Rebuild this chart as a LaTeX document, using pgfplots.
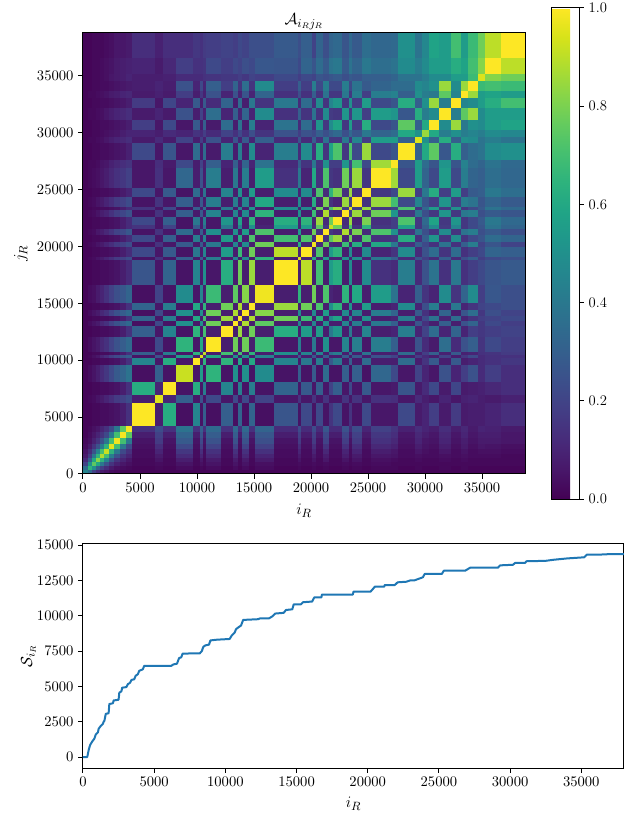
\documentclass[border=0pt]{standalone}
\usepackage{pgfplots}
\usepackage{pgfplotstable}
\pgfplotsset{compat=1.18}
\pgfplotstableset{header=false}
% block edges along both axes
\pgfplotstableread{
0
412
763
1114
1465
1816
2281
2746
3272
3798
4272
6316
6991
8158
9623
10289
10526
10789
12105
13132
13570
13947
14535
15088
16728
18886
19123
20061
20465
21053
21579
21956
22693
23307
23596
24474
25263
27018
27658
29149
29711
30351
31202
32281
33158
33746
34623
35263
36667
38770
}\edges
% block values in percent
\pgfplotstableread{
45 35 20 12 7 5 3 2 1 1 1 1 1 1 1 1 1 1 1 1 1 1 1 1 1 1 1 1 1 1 1 1 1 1 1 1 1 1 1 1 1 1 1 1 1 1 1 1 1
35 65 50 30 18 12 7 4 3 2 1 2 1 3 1 2 1 3 1 3 1 3 1 3 1 2 1 2 1 2 1 1 2 1 2 1 2 2 1 2 1 1 2 1 2 1 1 1 1
20 50 75 60 40 25 15 9 6 4 2 3 2 5 2 4 2 5 2 5 2 5 2 4 2 3 2 3 2 3 2 2 3 2 3 2 3 2 2 2 2 2 2 2 2 2 2 2 2
12 30 60 82 65 45 25 15 10 6 2 5 2 8 2 6 2 7 2 7 2 7 2 7 2 5 2 5 2 6 2 2 5 2 5 2 4 3 2 3 2 2 3 2 3 2 2 2 2
7 18 40 65 88 70 42 25 15 10 3 7 3 12 3 10 3 11 3 11 3 11 3 10 3 7 3 7 3 8 3 3 8 3 7 3 6 5 3 4 3 3 4 3 4 3 3 3 2
5 12 25 45 70 92 65 40 22 14 3 10 3 16 3 13 3 14 3 14 3 14 3 14 3 10 3 10 3 11 3 3 10 3 10 3 8 6 3 6 4 3 6 3 5 3 4 4 3
3 7 15 25 42 65 96 70 40 22 4 13 4 22 4 18 4 20 4 20 4 20 4 19 4 13 4 13 4 15 4 4 14 4 13 4 11 9 4 8 5 4 8 4 7 4 6 5 4
2 4 9 15 25 40 70 98 70 40 5 17 5 28 5 22 5 25 5 25 5 25 5 24 5 17 5 17 5 20 5 5 18 5 17 5 14 11 5 10 6 5 10 5 8 5 7 7 6
1 3 6 10 15 22 40 70 99 75 8 19 8 32 8 26 8 29 8 29 8 29 8 27 8 19 8 19 8 22 8 8 21 8 19 7 16 13 6 11 8 6 11 6 10 6 8 8 6
1 2 4 6 10 14 22 40 75 99 14 23 14 38 14 30 14 34 14 34 14 34 14 32 12 23 12 23 12 27 12 12 25 12 23 10 19 15 9 13 10 8 13 8 11 7 10 9 7
1 1 2 2 3 3 4 5 8 14 100 8 62 4 45 5 30 4 30 4 32 4 32 4 26 5 22 5 22 5 15 22 5 15 5 22 6 6 22 7 10 18 7 17 7 8 8 10 13
1 2 3 5 7 10 13 17 19 23 8 95 10 30 6 25 6 22 6 22 6 22 6 20 6 15 6 15 6 15 6 6 15 6 15 6 14 13 6 12 8 6 10 6 9 10 8 7 9
1 1 2 2 3 3 4 5 8 14 62 10 100 5 62 6 42 5 45 5 42 5 42 5 32 6 28 6 30 6 20 30 6 22 6 28 6 7 26 7 12 22 7 21 7 8 9 11 13
1 3 5 8 12 16 22 28 32 38 4 30 5 92 6 55 6 65 5 50 5 50 5 48 5 30 5 28 5 35 5 5 30 5 30 5 33 22 6 20 10 6 25 10 18 25 12 18 13
1 1 2 2 3 3 4 5 8 14 45 6 62 6 100 8 65 6 65 6 60 6 60 6 45 7 40 7 42 7 28 40 7 30 7 35 8 8 35 8 15 28 8 28 8 10 12 14 16
1 2 4 6 10 13 18 22 26 30 5 25 6 55 8 95 12 60 8 50 8 50 8 45 8 30 8 28 8 30 8 8 28 8 28 8 25 20 8 18 12 8 20 8 16 22 12 14 14
1 1 2 2 3 3 4 5 8 14 30 6 42 6 65 12 90 8 70 8 70 8 65 8 50 8 45 8 45 8 35 42 8 35 8 38 8 9 35 9 18 30 9 28 9 10 14 15 17
1 3 5 7 11 14 20 25 29 34 4 22 5 65 6 60 8 100 8 78 8 78 8 68 6 42 6 40 6 50 6 6 45 6 42 6 42 30 7 25 12 7 36 12 25 30 15 22 18
1 1 2 2 3 3 4 5 8 14 30 6 45 5 65 8 70 8 100 8 85 8 78 8 62 8 55 8 55 8 40 52 8 40 8 45 8 10 42 10 20 35 10 32 10 18 16 18 20
1 3 5 7 11 14 20 25 29 34 4 22 5 50 6 50 8 78 8 100 10 88 8 75 8 45 8 45 8 50 8 8 45 8 42 8 40 30 8 26 14 8 30 8 25 32 16 22 18
1 1 2 2 3 3 4 5 8 14 32 6 42 5 60 8 70 8 85 10 100 10 88 8 78 8 68 8 62 8 45 58 8 45 8 50 8 10 42 10 22 38 10 35 10 15 18 20 22
1 3 5 7 11 14 20 25 29 34 4 22 5 50 6 50 8 78 8 88 10 100 10 82 8 48 8 48 8 55 8 8 48 8 45 8 42 32 8 28 14 8 32 8 26 36 16 24 20
1 1 2 2 3 3 4 5 8 14 32 6 42 5 60 8 65 8 78 8 88 10 100 10 85 8 78 8 72 8 50 65 8 52 8 55 8 10 48 10 24 42 10 40 10 15 20 22 24
1 3 4 7 10 14 19 24 27 32 4 20 5 48 6 45 8 68 8 75 8 82 10 98 8 65 8 78 8 72 10 8 65 8 60 8 55 38 10 30 15 10 48 15 32 48 18 27 24
1 1 2 2 3 3 4 5 8 12 26 6 32 5 45 8 50 6 62 8 78 8 85 8 100 8 90 8 70 8 55 62 8 48 8 48 14 12 42 12 25 38 14 40 14 18 22 26 28
1 2 3 5 7 10 13 17 19 23 5 15 6 30 7 30 8 42 8 45 8 48 8 65 8 95 10 62 10 55 10 10 50 10 48 10 40 30 12 26 18 12 30 12 24 30 18 22 24
1 1 2 2 3 3 4 5 8 12 22 6 28 5 40 8 45 6 55 8 68 8 78 8 90 10 100 10 72 8 55 65 8 48 8 48 10 15 48 12 25 35 15 35 14 18 22 32 30
1 2 3 5 7 10 13 17 19 23 5 15 6 28 7 28 8 40 8 45 8 48 8 78 8 62 10 98 12 78 12 10 68 10 62 10 60 40 14 30 22 14 38 14 30 42 20 26 20
1 1 2 2 3 3 4 5 8 12 22 6 30 5 42 8 45 6 55 8 62 8 72 8 70 10 72 12 100 14 75 85 10 78 10 72 14 16 62 14 30 52 15 48 15 22 26 35 32
1 2 3 6 8 11 15 20 22 27 5 15 6 35 7 30 8 50 8 50 8 55 8 72 8 55 8 78 14 100 16 12 88 12 80 12 72 50 15 38 24 16 48 15 38 42 24 28 24
1 1 2 2 3 3 4 5 8 12 15 6 20 5 28 8 35 6 40 8 45 8 50 10 55 10 55 12 75 16 92 78 14 72 14 65 16 18 58 16 30 48 17 45 16 22 26 38 32
1 1 2 2 3 3 4 5 8 12 22 6 30 5 40 8 42 6 52 8 58 8 65 8 62 10 65 10 85 12 78 100 12 85 10 80 14 18 72 16 34 58 16 52 16 22 28 40 34
1 2 3 5 8 10 14 18 21 25 5 15 6 30 7 28 8 45 8 45 8 48 8 65 8 50 8 68 10 88 14 12 100 18 85 14 78 52 16 40 24 16 52 16 40 42 24 28 26
1 1 2 2 3 3 4 5 8 12 15 6 22 5 30 8 35 6 40 8 45 8 52 8 48 10 48 10 78 12 72 85 18 95 18 85 16 20 72 16 34 55 17 50 16 22 28 38 34
1 2 3 5 7 10 13 17 19 23 5 15 6 30 7 28 8 42 8 42 8 45 8 60 8 48 8 62 10 80 14 10 85 18 100 14 85 70 22 45 26 18 52 18 42 38 26 32 28
1 1 2 2 3 3 4 5 7 10 22 6 28 5 35 8 38 6 45 8 50 8 55 8 48 10 48 10 72 12 65 80 14 85 14 100 16 22 85 18 40 62 18 55 18 28 30 40 36
1 2 3 4 6 8 11 14 16 19 6 14 6 33 8 25 8 42 8 40 8 42 8 55 14 40 10 60 14 72 16 14 78 16 85 16 100 86 22 55 32 22 55 22 42 32 30 36 33
1 2 2 3 5 6 9 11 13 15 6 13 7 22 8 20 9 30 10 30 10 32 10 38 12 30 15 40 16 50 18 18 52 20 70 22 86 100 26 55 35 26 52 26 44 35 32 38 34
1 1 2 2 3 3 4 5 6 9 22 6 26 6 35 8 35 7 42 8 42 8 48 10 42 12 48 14 62 15 58 72 16 72 22 85 22 26 100 30 60 75 27 62 30 35 38 48 50
1 2 2 3 4 6 8 10 11 13 7 12 7 20 8 18 9 25 10 26 10 28 10 30 12 26 12 30 14 38 16 16 40 16 45 18 55 55 30 95 50 30 62 30 50 48 38 42 38
1 1 2 2 3 4 5 6 8 10 10 8 12 10 15 12 18 12 20 14 22 14 24 15 25 18 25 22 30 24 30 34 24 34 26 40 32 35 60 50 85 60 42 50 42 45 42 48 46
1 1 2 2 3 3 4 5 6 8 18 6 22 6 28 8 30 7 35 8 38 8 42 10 38 12 35 14 52 16 48 58 16 55 18 62 22 26 75 30 60 100 48 85 40 50 48 55 58
1 2 2 3 4 6 8 10 11 13 7 10 7 25 8 20 9 36 10 30 10 32 10 48 14 30 15 38 15 48 17 16 52 17 52 18 55 52 27 62 42 48 100 42 75 85 48 55 55
1 1 2 2 3 3 4 5 6 8 17 6 21 10 28 8 28 12 32 8 35 8 40 15 40 12 35 14 48 15 45 52 16 50 18 55 22 26 62 30 50 85 42 100 45 48 55 62 70
1 2 2 3 4 5 7 8 10 11 7 9 7 18 8 16 9 25 10 25 10 26 10 32 14 24 14 30 15 38 16 16 40 16 42 18 42 44 30 50 42 40 75 45 100 85 55 58 55
1 1 2 2 3 3 4 5 6 7 8 10 8 25 10 22 10 30 18 32 15 36 15 48 18 30 18 42 22 42 22 22 42 22 38 28 32 35 35 48 45 50 85 48 85 100 68 70 68
1 1 2 2 3 4 6 7 8 10 8 8 9 12 12 12 14 15 16 16 18 16 20 18 22 18 22 20 26 24 26 28 24 28 26 30 30 32 38 38 42 48 48 55 55 68 95 82 78
1 1 2 2 3 4 5 7 8 9 10 7 11 18 14 14 15 22 18 22 20 24 22 27 26 22 32 26 35 28 38 40 28 38 32 40 36 38 48 42 48 55 55 62 58 70 82 100 90
1 1 2 2 2 3 4 6 6 7 13 9 13 13 16 14 17 18 20 18 22 20 24 24 28 24 30 20 32 24 32 34 26 34 28 36 33 34 50 38 46 58 55 70 55 68 78 90 100
}\cells
\pgfplotstableset{header=true}
\gdef\meshcoords{}
\pgfplotsforeachungrouped \r in {0,...,49}{%
  \pgfplotstablegetelem{\r}{[index]0}\of\edges\let\yv\pgfplotsretval
  \pgfplotsforeachungrouped \c in {0,...,49}{%
    \pgfplotstablegetelem{\c}{[index]0}\of\edges\let\xv\pgfplotsretval
    \def\vv{0}%
    \ifnum\r<49 \ifnum\c<49
      \pgfplotstablegetelem{\r}{[index]\c}\of\cells\let\vv\pgfplotsretval
    \fi\fi
    \xdef\meshcoords{\meshcoords (\xv,\yv) [\vv]}%
  }%
}
\definecolor{tabblue}{HTML}{1F77B4}
\pgfplotsset{
  refaxis/.style={
    scale only axis,
    axis line style={line width=0.75pt,black},
    every tick/.style={line width=0.75pt,black},
    major tick length=3.6pt,
    tick align=outside,
    xtick pos=bottom,
    ytick pos=left,
    scaled ticks=false,
    /pgf/number format/set thousands separator={},
    tick label style={font=\fontsize{11}{13}\selectfont},
    label style={font=\fontsize{12.5}{14}\selectfont},
    title style={font=\fontsize{13}{15}\selectfont,yshift=-7pt},
    xtick={0,5000,10000,15000,20000,25000,30000,35000},
  }
}
\begin{document}
\begin{tikzpicture}[x=1pt,y=1pt]
\useasboundingbox (0,0) rectangle (468,610.5);
\begin{axis}[
  refaxis,
  at={(62.25pt,255pt)},anchor=south west,
  width=331.5pt,height=330.75pt,
  xmin=0,xmax=38770,ymin=0,ymax=38770,
  ytick={0,5000,10000,15000,20000,25000,30000,35000},
  axis on top,
  xlabel={$i_R$},ylabel={$j_R$},
  xlabel shift=1.5pt,
  title={$\mathcal{A}_{i_R j_R}$},
  colormap/viridis,
  point meta min=0,point meta max=100,
  colorbar,
  colorbar style={
    scale only axis,
    at={(1.059,-0.0567)},anchor=south west,
    width=21pt,height=368.25pt,
    ytick={0,20,40,60,80,100},
    yticklabels={0.0,0.2,0.4,0.6,0.8,1.0},
    ytick pos=right,yticklabel pos=right,
    tick align=outside,
    major tick length=3.6pt,
    tick label style={font=\fontsize{11}{13}\selectfont},
    every tick/.style={line width=0.75pt,black},
    axis line style={line width=0.75pt,black},
  },
]
\edef\plotmesh{\noexpand\addplot[surf,shader=flat corner,line width=0.1pt,mesh/rows=50,mesh/cols=50,point meta=explicit] coordinates {\meshcoords};}
\plotmesh
\end{axis}
\begin{axis}[
  refaxis,
  at={(62.25pt,34.5pt)},anchor=south west,
  width=405.75pt,height=168pt,
  xmin=0,xmax=38000,ymin=-778,ymax=15071,
  ytick={0,2500,5000,7500,10000,12500,15000},
  xlabel={$i_R$},ylabel={$\mathcal{S}_{i_R}$},
  xlabel shift=1pt,ylabel shift=-6pt,
]
\addplot[tabblue,line width=1.5pt,line join=round] coordinates {
(0,0)(300,0)(400,500)(500,850)(650,1100)(800,1300)(900,1600)(1050,1750)(1100,2000)(1250,2200)(1400,2350)(1450,2500)(1500,2550)(1550,2800)(1600,3050)(1800,3100)(1850,3750)(2100,3800)(2150,4000)(2500,4050)(2550,4550)(2700,4650)(2750,4900)(3050,4950)(3150,5150)(3300,5250)(3400,5450)(3600,5500)(3700,5750)(3850,5850)(3950,6100)(4200,6200)(4300,6450)(6200,6450)(6350,6550)(6600,6600)(6750,7000)(6900,7050)(7000,7320)(8200,7330)(8350,7500)(8450,7800)(8600,7900)(8850,7950)(8950,8250)(9400,8300)(10300,8350)(10450,8600)(10650,8800)(10750,9050)(10950,9200)(11100,9300)(11250,9700)(12300,9750)(12400,9800)(13050,9800)(13300,9950)(13500,10150)(14100,10200)(14250,10400)(14700,10450)(14800,10800)(15300,10800)(15450,10950)(16100,11000)(16250,11300)(16750,11300)(16780,11490)(18950,11490)(19000,11700)(20200,11700)(20500,12050)(21150,12050)(21200,12170)(21900,12170)(22100,12360)(22700,12400)(23000,12500)(23286,12500)(23873,12715)(24000,12950)(25200,12950)(25350,13185)(26850,13185)(27200,13400)(29150,13400)(29300,13560)(30200,13600)(30350,13730)(31050,13730)(31150,13850)(32500,13880)(33000,13950)(34000,14050)(35200,14130)(35400,14320)(36700,14330)(36900,14360)(38000,14360)
};
\end{axis}
\end{tikzpicture}
\end{document}
